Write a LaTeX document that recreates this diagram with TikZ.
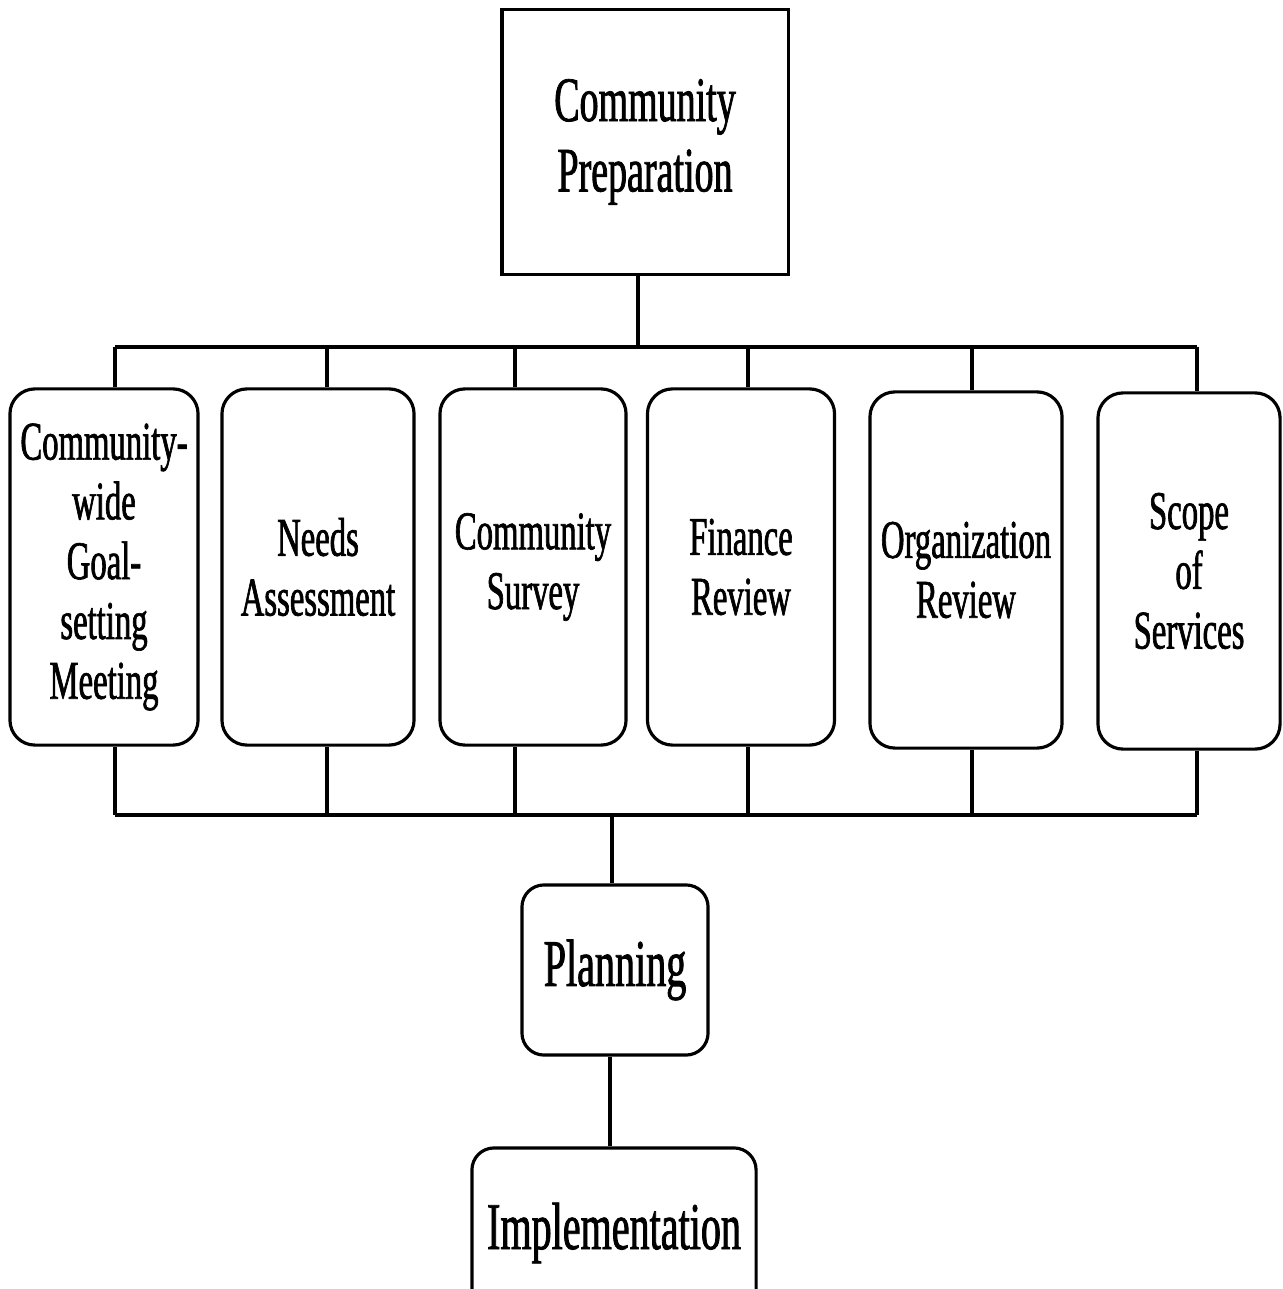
\documentclass[tikz,border=0pt]{standalone}
\usepackage{fontspec}
\setmainfont{Liberation Serif}[FakeStretch=0.6, FakeBold=1.2]

\begin{document}
\begin{tikzpicture}[
    x=0.01cm, y=-0.01cm,
    topbox/.style={rectangle, draw=black, line width=0.9pt, align=center,
                   font=\fontsize{18}{20}\selectfont, inner sep=0pt},
    task/.style={rectangle, rounded corners=0.25cm, draw=black, line width=0.9pt,
                 align=center, font=\fontsize{15.5}{17}\selectfont, inner sep=0pt},
    stage/.style={rectangle, rounded corners=0.22cm, draw=black, line width=0.9pt,
                  align=center, font=\fontsize{19}{21}\selectfont, inner sep=0pt},
    conn/.style={-, black, line width=0.9pt},
]
\useasboundingbox (0,0) rectangle (1282,1289);

% Bus heights
\def\ytop{347}
\def\ybot{815}

% --- Top box ---
\node[topbox, minimum width=2.86cm, minimum height=2.65cm] (prep) at (645,142)
    {Community\\Preparation};

% --- Six activity boxes ---
\foreach \i/\xpos/\ypos/\bw/\txt in {
    1/104/567/1.88/{Community-\\wide\\Goal-\\setting\\Meeting},
    2/318/567/1.92/{Needs\\Assessment},
    3/533/567/1.86/{Community\\Survey},
    4/741/567/1.87/{Finance\\Review},
    5/966/570/1.92/{Organization\\Review},
    6/1189/571/1.82/{Scope\\of\\Services}} {
    \node[task, minimum width=\bw cm, minimum height=3.56cm] (b\i) at (\xpos,\ypos) {\txt};
}

% --- Bus taps ---
\foreach \i/\xpos in {1/115, 2/327, 3/515, 4/748, 5/972, 6/1197} {
    \coordinate (t\i) at (\xpos,\ytop);
    \coordinate (u\i) at (\xpos,\ybot);
}
\coordinate (tc) at (638,\ytop);
\coordinate (uc) at (612,\ybot);
\coordinate (pc) at (610,1100);

% --- Lower stages ---
\node[stage, minimum width=1.86cm, minimum height=1.70cm] (plan) at (615,970) {Planning};
\node[stage, minimum width=2.84cm, minimum height=1.70cm] (impl) at (614,1233) {Implementation};

% --- Connections ---
\draw[conn] (prep.south -| tc) -- (tc);
\draw[conn] (t1) -- (t6);
\draw[conn] (u1) -- (u6);
\foreach \i in {1,...,6} {
    \draw[conn] (t\i) -- (t\i |- b\i.north);
    \draw[conn] (u\i |- b\i.south) -- (u\i);
}
\draw[conn] (uc) -- (uc |- plan.north);
\draw[conn] (pc |- plan.south) -- (pc |- impl.north);

\end{tikzpicture}
\end{document}
